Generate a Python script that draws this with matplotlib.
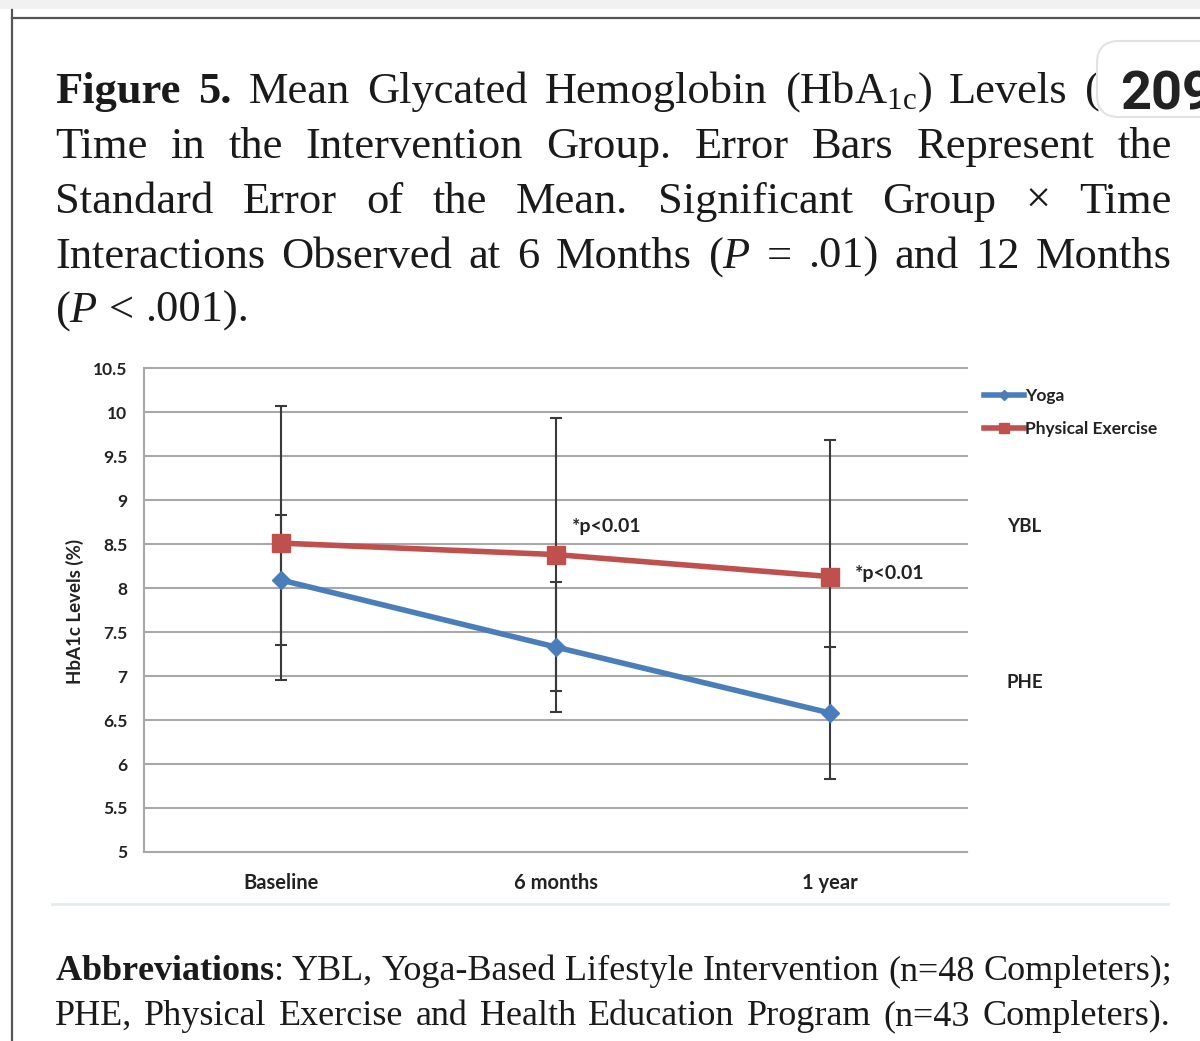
import matplotlib
matplotlib.use("Agg")
import matplotlib.pyplot as plt
import numpy as np
from matplotlib.patches import FancyBboxPatch, Rectangle
from matplotlib.lines import Line2D
from matplotlib.transforms import IdentityTransform
from matplotlib.ticker import FuncFormatter

# ---------------- data ----------------
categories = ["Baseline", "6 months", "1 year"]
yoga_mean = [8.09, 7.33, 6.58]
yoga_se = [0.74, 0.74, 0.75]
phe_mean = [8.51, 8.38, 8.13]
phe_se = [1.56, 1.55, 1.55]
y_ticks = [5, 5.5, 6, 6.5, 7, 7.5, 8, 8.5, 9, 9.5, 10, 10.5]
series_labels = ["Yoga", "Physical Exercise"]
annot_text = "*p<0.01"

plt.rcParams["mathtext.fontset"] = "custom"
plt.rcParams["mathtext.rm"] = "Liberation Serif"
plt.rcParams["mathtext.it"] = "Liberation Serif:italic"
plt.rcParams["mathtext.bf"] = "Liberation Serif:bold"

W, H = 1200, 1041
fig = plt.figure(figsize=(W / 100, H / 100), dpi=100)
fig.patch.set_facecolor("white")

def fx(x):
    return x / W

def fy(y):
    return 1 - y / H

# ---------------- page decorations ----------------
fig.add_artist(Rectangle((0, fy(9)), 1, 9 / H, transform=fig.transFigure,
                         color="#f1f1f1", lw=0, zorder=0))
fig.add_artist(Line2D([fx(12), 1], [fy(18), fy(18)], transform=fig.transFigure,
                      color="#555555", lw=1.6))
fig.add_artist(Line2D([fx(12), fx(12)], [fy(10), 0], transform=fig.transFigure,
                      color="#555555", lw=1.6))
fig.add_artist(Line2D([fx(52), fx(1168)], [fy(904), fy(904)], transform=fig.transFigure,
                      color="#e3eaee", lw=2))

# ---------------- chart ----------------
CF = "Lato"
TXT = "#222222"
ax = fig.add_axes([fx(144), fy(852), (967 - 144) / W, (852 - 368) / H])
x = np.arange(len(categories))
blue = "#4a7ebb"
red = "#c0504d"
ecol = "#3a3a3a"

ax.errorbar(x, yoga_mean, yerr=yoga_se, fmt="none", ecolor=ecol, elinewidth=1.5,
            capsize=4, capthick=1.5, zorder=3)
ax.errorbar(x, phe_mean, yerr=phe_se, fmt="none", ecolor=ecol, elinewidth=1.5,
            capsize=4, capthick=1.5, zorder=3)
l1, = ax.plot(x, yoga_mean, color=blue, lw=4, marker="D", markersize=9,
              markeredgecolor=blue, zorder=4, label=series_labels[0])
l2, = ax.plot(x, phe_mean, color=red, lw=4, marker="s", markersize=13,
              markeredgecolor=red, zorder=5, label=series_labels[1])

ax.set_xlim(-0.5, len(categories) - 0.5)
ax.set_ylim(5, 10.5)
ax.set_yticks(y_ticks)
ax.yaxis.set_major_formatter(FuncFormatter(lambda v, p: f"{v:g}"))
ax.set_xticks(x)
ax.set_xticklabels(categories)
ax.yaxis.grid(True, color="#a8a8a8", lw=1.5)
ax.set_axisbelow(True)
for s in ["top", "right"]:
    ax.spines[s].set_visible(False)
ax.spines["left"].set_color("#a8a8a8")
ax.spines["left"].set_linewidth(1.5)
ax.spines["bottom"].set_color("#a8a8a8")
ax.spines["bottom"].set_linewidth(1.5)
ax.tick_params(axis="y", length=0, pad=12, labelsize=12.5, colors=TXT)
ax.tick_params(axis="x", length=0, pad=15, labelsize=14.5, colors=TXT)
for lab in ax.get_yticklabels() + ax.get_xticklabels():
    lab.set_fontfamily(CF)
    lab.set_fontweight("bold")
for line in ax.get_ygridlines():
    line.set_clip_on(False)

ax.text(1.06, 8.70, annot_text, fontfamily=CF, fontweight="bold", fontsize=14,
        va="center", ha="left", color=TXT)
ax.text(2.09, 8.17, annot_text, fontfamily=CF, fontweight="bold", fontsize=14,
        va="center", ha="left", color=TXT)

fig.text(fx(75), fy(611), "HbA1c Levels (%)", rotation=90, ha="center", va="center",
         fontfamily=CF, fontweight="bold", fontsize=13.5, color=TXT)

leg = ax.legend(handles=[l1, l2], labels=series_labels, loc="upper left",
                bbox_to_anchor=(fx(984), fy(388)), bbox_transform=fig.transFigure,
                frameon=False, handlelength=2.3, handletextpad=0.05, borderpad=0,
                borderaxespad=0, labelspacing=1.0, markerscale=0.55,
                prop={"family": CF, "weight": "bold", "size": 12.5})
for t in leg.get_texts():
    t.set_color(TXT)

fig.text(fx(1007), fy(527), "YBL", fontfamily=CF, fontweight="bold", fontsize=13.5,
         ha="left", va="center", color=TXT)
fig.text(fx(1007), fy(683), "PHE", fontfamily=CF, fontweight="bold", fontsize=13.5,
         ha="left", va="center", color=TXT)

# ---------------- caption text ----------------
renderer = fig.canvas.get_renderer()
SERIF = "Liberation Serif"

def draw_line(tokens, y_base, size, x0=55, x1=1172, justify=True, zorder=2):
    arts = []
    for tok in tokens:
        if isinstance(tok, tuple):
            txt, kw = tok
        else:
            txt, kw = tok, {}
        a = fig.text(0, 0, txt, fontsize=size, fontfamily=SERIF, va="baseline",
                     ha="left", color="#1a1a1a", zorder=zorder, **kw)
        arts.append(a)
    widths = [a.get_window_extent(renderer).width for a in arts]
    if justify and len(arts) > 1:
        gap = (x1 - x0 - sum(widths)) / (len(arts) - 1)
    else:
        gap = size * 100 / 72 * 0.25
    xc = x0
    for a, w in zip(arts, widths):
        a.set_position((fx(xc), fy(y_base)))
        xc += w + gap
    return arts

CAP = 32
B = {"fontweight": "bold"}
draw_line([("Figure", B), ("5.", B), "Mean", "Glycated", "Hemoglobin",
           r"(HbA$_{\mathrm{1c}}$)", "Levels", "("], 103, CAP, x1=1100)
draw_line("Time in the Intervention Group. Error Bars Represent the".split(), 158, CAP)
draw_line("Standard Error of the Mean. Significant Group × Time".split(), 213, CAP)
draw_line(["Interactions", "Observed", "at", "6", "Months", r"($P$", "=", ".01)",
           "and", "12", "Months"], 268, CAP)
draw_line([r"($P$", "<", ".001)."], 322, CAP, justify=False)

AB = 26
draw_line([r"$\mathbf{Abbreviations}$:", "YBL,", "Yoga-Based", "Lifestyle", "Intervention",
           "(n=48", "Completers);"], 980, AB, x1=1172)
draw_line(["PHE,", "Physical", "Exercise", "and", "Health", "Education", "Program",
           "(n=43", "Completers)."], 1025, AB, x1=1170)

# ---------------- floating badge ----------------
badge = FancyBboxPatch((1097, H - 117), 140, 76, boxstyle="round,pad=0,rounding_size=22",
                       transform=IdentityTransform(), facecolor="white",
                       edgecolor="#e2e2e2", lw=1.5, zorder=10)
fig.add_artist(badge)
fig.text(fx(1120), fy(109), "209", fontfamily="Roboto", fontweight="bold", fontsize=39,
         va="baseline", ha="left", color="#222222", zorder=11)

fig.savefig("out.png", dpi=100)
